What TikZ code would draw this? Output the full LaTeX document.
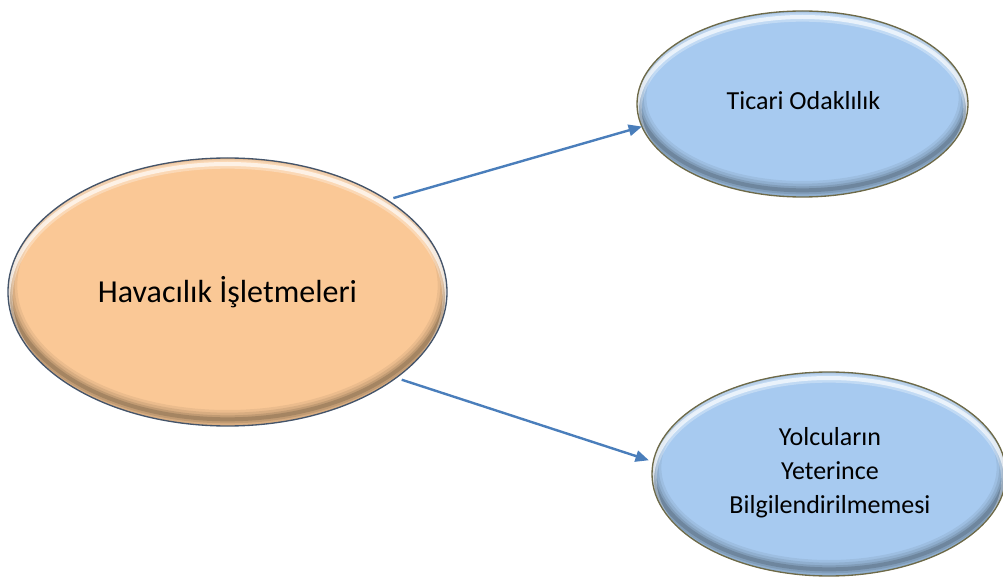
\documentclass[tikz,border=0pt]{standalone}
\usepackage{fontspec}
\setmainfont{Carlito}
\usetikzlibrary{shapes.geometric,arrows.meta}
\definecolor{peach}{HTML}{FAC896}
\definecolor{sky}{HTML}{A7CAF0}
\definecolor{edgeA}{HTML}{44546A}
\definecolor{edgeB}{HTML}{6E6A48}
\definecolor{conncol}{HTML}{4A7EBB}
\tikzset{
  oval/.style n args={4}{ellipse, minimum width=1.5*#1 pt, minimum height=1.5*#2 pt,
    inner sep=0pt, outer sep=0pt, fill=#3, draw=#4, line width=1pt,
    path picture={
      \foreach \w/\o in {14/0.06,10/0.08,6/0.1,3/0.14}{
        \draw[black,opacity=\o,line width=\w pt]
          ([yshift=5pt]path picture bounding box.center)
          ellipse [x radius=0.75*#1 pt, y radius=0.75*#2 pt];}
      \draw[white,opacity=0.3,line width=7pt]
          ([yshift=-4.5pt]path picture bounding box.center)
          ellipse [x radius=0.75*#1 pt, y radius=0.75*#2 pt];
      \draw[white,opacity=0.65,line width=3pt]
          ([yshift=-4.5pt]path picture bounding box.center)
          ellipse [x radius=0.75*#1 pt, y radius=0.75*#2 pt];
    }},
  conn/.style={draw=conncol, line width=1.8pt, -{Triangle[length=10pt,width=8.5pt]}},
  bigtext/.style={font=\fontsize{24}{29}\selectfont, inner sep=0pt},
  smalltext/.style={font=\fontsize{19.5}{25.5}\selectfont, inner sep=0pt, align=center}
}
\begin{document}
\begin{tikzpicture}[x=0.75pt,y=-0.75pt]
\useasboundingbox (0,0) rectangle (1003,577);
\node[oval={219.5}{134}{peach}{edgeA}] (H) at (227.5,292) {};
\node[oval={165.5}{93}{sky}{edgeB}] (T) at (802.5,104) {};
\node[oval={177}{102}{sky}{edgeB}] (B) at (829,474) {};
\node[bigtext, anchor=base] (Ht) at (227.5,303) {Havacılık İşletmeleri};
\node[smalltext, anchor=base] (Tt) at (803.5,110) {Ticari Odaklılık};
\node[smalltext, anchor=center] (Bt) at (830,473) {Yolcuların\\Yeterince\\Bilgilendirilmemesi};
\draw[conn, shorten <=5pt] (H.30) -- (T.188);
\draw[conn, shorten <=4.5pt, shorten >=3.5pt] (H.-27) -- (B.176.6);
\end{tikzpicture}
\end{document}
